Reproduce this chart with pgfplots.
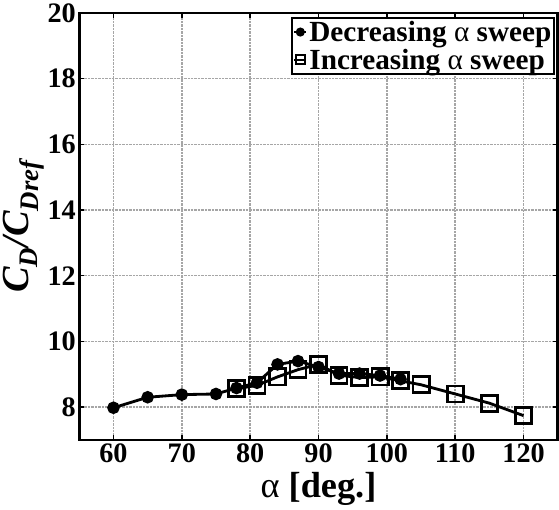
\documentclass[border=0pt]{standalone}
\usepackage{fontspec}
\setmainfont{Liberation Serif}
\usepackage{pgfplots}
\pgfplotsset{compat=1.18}
\begin{document}
\begin{tikzpicture}
\begin{axis}[
 scale only axis, width=475pt, height=424pt,
 xmin=55, xmax=125, ymin=7, ymax=20,
 xtick={60,70,...,120}, ytick={8,10,...,20},
 xticklabels={\textbf{60},\textbf{70},\textbf{80},\textbf{90},\textbf{100},\textbf{110},\textbf{120}},
 yticklabels={\textbf{8},\textbf{10},\textbf{12},\textbf{14},\textbf{16},\textbf{18},\textbf{20}},
 tick label style={font=\fontsize{28}{30}\selectfont\bfseries},
 grid=major, grid style={densely dotted, gray!70, line width=1.5pt},
 axis line style={line width=2.5pt},
 tick style={black, line width=1.5pt}, tick align=inside, major tick length=5pt,
 xlabel={{\mdseries α} [deg.]},
 xlabel style={font=\fontsize{36}{38}\selectfont\bfseries, yshift=-3pt},
 ylabel={\bfseries\itshape C\textsubscript{D}/C\textsubscript{Dref}},
 ylabel style={font=\fontsize{38}{40}\selectfont, yshift=-4pt},
]
\addplot[black, line width=2.8pt, mark=*, mark size=4.8pt, mark options={solid}] coordinates {
(60,7.98) (65,8.30) (70,8.38) (75,8.40) (78,8.58) (81,8.74) (84,9.30) (87,9.40) (90,9.22)
(93,9.02) (96,9.02) (99,8.96) (102,8.85)
};
\addplot[black, line width=2.8pt, mark=square, mark size=8pt, mark options={solid, line width=2.8pt}] coordinates {
(78,8.56) (81,8.66) (84,8.92) (87,9.14) (90,9.30) (93,8.97) (96,8.90) (99,8.92) (102,8.80)
(105,8.68) (110,8.40) (115,8.12) (120,7.74)
};
\end{axis}
\begin{axis}[
 scale only axis, width=475pt, height=424pt,
 xmin=55, xmax=125, ymin=7, ymax=20, hide axis,
 legend style={at={(rel axis cs:0.995,0.99)}, anchor=north east, draw=black, line width=2pt,
   font=\fontsize{29}{31}\selectfont\bfseries, inner sep=1pt, row sep=2pt},
 legend cell align=left,
 legend image code/.code={\draw[mark repeat=2,mark phase=2,#1] plot coordinates {(0pt,0pt) (6pt,0pt) (12pt,0pt)};},
]
\addlegendimage{black, line width=2pt, mark=*, mark size=3.5pt, mark options={solid}}
\addlegendentry{Decreasing {\mdseries α} sweep}
\addlegendimage{black, line width=2pt, mark=square, mark size=4.5pt, mark options={solid, line width=2pt}}
\addlegendentry{Increasing {\mdseries α} sweep}
\end{axis}
\end{tikzpicture}
\end{document}
